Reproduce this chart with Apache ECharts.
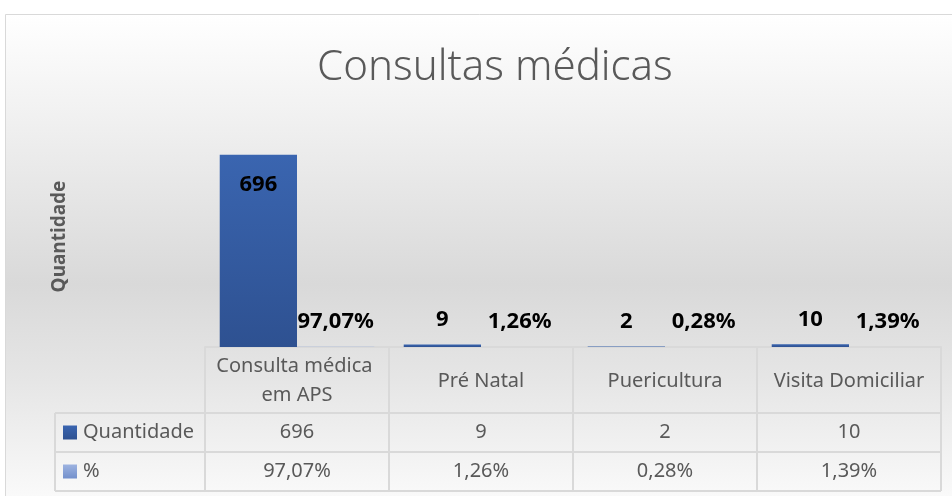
<!DOCTYPE html>
<html>
<head>
<meta charset="utf-8">
<script src="https://cdn.jsdelivr.net/npm/echarts@6/dist/echarts.min.js"></script>
<style>
html,body{margin:0;padding:0;background:#ffffff;}
#chart{width:952px;height:496px;}
</style>
</head>
<body>
<div id="chart"></div>
<script>
const categories = ['Consulta médica em APS', 'Pré Natal', 'Puericultura', 'Visita Domiciliar'];
const quantidade = [696, 9, 2, 10];
const percentual = [97.07, 1.26, 0.28, 1.39];
const seriesNames = ['Quantidade', '%'];
const titleText = 'Consultas médicas';
const yAxisName = 'Quantidade';

const FONT = '"Noto Sans", "Open Sans", sans-serif';
const TXT = '#595959';
const LINE = '#d9d9d9';
const fmtPct = v => v.toFixed(2).replace('.', ',') + '%';

const darkBlue = new echarts.graphic.LinearGradient(0, 0, 0, 1, [
  { offset: 0, color: '#3a65b0' }, { offset: 1, color: '#2e5191' }
]);
const lightBlue = new echarts.graphic.LinearGradient(0, 0, 0, 1, [
  { offset: 0, color: '#9db3e0' }, { offset: 1, color: '#7390cc' }
]);

const chart = echarts.init(document.getElementById('chart'), null, { renderer: 'canvas' });

const gridTop = 126, gridBottom = 149, gridLeft = 205, gridRight = 11;
const headerH = 66, rowH = 39;

chart.setOption({
  animation: false,
  backgroundColor: 'transparent',
  title: {
    text: titleText,
    left: 312,
    top: 42,
    textStyle: { fontFamily: FONT, fontSize: 42, fontWeight: 300, color: TXT }
  },
  grid: { left: gridLeft, right: gridRight, top: gridTop, bottom: gridBottom, containLabel: false },
  xAxis: {
    type: 'category',
    data: categories,
    axisLine: { show: true, lineStyle: { color: LINE, width: 2 } },
    axisTick: { show: true, length: headerH + 2 * rowH, lineStyle: { color: LINE, width: 2 } },
    axisLabel: {
      interval: 0,
      margin: 34,
      verticalAlign: 'middle',
      width: 176,
      overflow: 'break',
      lineHeight: 29,
      fontFamily: FONT,
      fontSize: 20,
      color: TXT
    },
    splitLine: { show: false }
  },
  yAxis: {
    type: 'value',
    min: 0,
    max: 800,
    name: yAxisName,
    nameLocation: 'middle',
    nameRotate: 90,
    nameGap: 136,
    nameTextStyle: { fontFamily: FONT, fontSize: 19, fontWeight: 'bold', color: TXT },
    axisLabel: { show: false },
    axisLine: { show: false },
    axisTick: { show: false },
    splitLine: { show: false }
  },
  series: [
    {
      name: seriesNames[0],
      type: 'bar',
      data: quantidade.map((v, i) => ({
        value: v,
        label: i === 0 ? { position: 'insideTop', distance: 19 } : { position: 'top', distance: 14 }
      })),
      barGap: '0%',
      barCategoryGap: '16%',
      itemStyle: { color: darkBlue },
      label: {
        show: true,
        fontFamily: FONT,
        fontSize: 22,
        fontWeight: 'bold',
        color: '#000000'
      }
    },
    {
      name: seriesNames[1],
      type: 'bar',
      data: percentual.map(v => v / 100),
      itemStyle: { color: lightBlue },
      label: {
        show: true,
        position: 'top',
        distance: 14,
        fontFamily: FONT,
        fontSize: 22,
        fontWeight: 'bold',
        color: '#000000',
        formatter: p => fmtPct(percentual[p.dataIndex])
      }
    }
  ]
});

// Build the frame background and the data table rows from the axis scale
const baseY = chart.convertToPixel({ yAxisIndex: 0 }, 0);
const p0 = chart.convertToPixel({ xAxisIndex: 0 }, 0);
const p1 = chart.convertToPixel({ xAxisIndex: 0 }, 1);
const band = p1 - p0;
const tableLeft = gridLeft - 150;
const tableRight = p0 + band * (categories.length - 0.5);
const rowsY = [baseY + headerH, baseY + headerH + rowH, baseY + headerH + 2 * rowH];

const graphics = [];
graphics.push({
  type: 'rect', z: -10, silent: true,
  shape: { x: 5.5, y: 14.5, width: 960, height: 490 },
  style: {
    fill: new echarts.graphic.LinearGradient(0, 0, 0, 1, [
      { offset: 0, color: '#ffffff' },
      { offset: 0.25, color: '#eeeeee' },
      { offset: 0.55, color: '#d9d9d9' },
      { offset: 0.75, color: '#e6e6e6' },
      { offset: 1, color: '#fbfbfb' }
    ]),
    stroke: LINE, lineWidth: 1
  }
});
rowsY.forEach(y => {
  graphics.push({ type: 'line', silent: true, shape: { x1: tableLeft, y1: y, x2: tableRight, y2: y }, style: { stroke: LINE, lineWidth: 2 } });
});
graphics.push({ type: 'line', silent: true, shape: { x1: tableLeft, y1: rowsY[0], x2: tableLeft, y2: rowsY[2] }, style: { stroke: LINE, lineWidth: 2 } });

const rowValues = [quantidade.map(String), percentual.map(fmtPct)];
const keyColors = [darkBlue, lightBlue];
rowValues.forEach((vals, r) => {
  const cy = rowsY[r] + rowH / 2;
  graphics.push({ type: 'rect', silent: true, shape: { x: tableLeft + 8, y: cy - 7, width: 14, height: 14 }, style: { fill: keyColors[r] } });
  graphics.push({ type: 'text', silent: true, x: tableLeft + 28, y: cy, style: { text: seriesNames[r], fontFamily: FONT, fontSize: 20, fill: TXT, verticalAlign: 'middle', align: 'left' } });
  vals.forEach((t, i) => {
    const cx = chart.convertToPixel({ xAxisIndex: 0 }, i);
    graphics.push({ type: 'text', silent: true, x: cx, y: cy, style: { text: t, fontFamily: FONT, fontSize: 20, fill: TXT, verticalAlign: 'middle', align: 'center' } });
  });
});
chart.setOption({ graphic: graphics });
</script>
</body>
</html>
